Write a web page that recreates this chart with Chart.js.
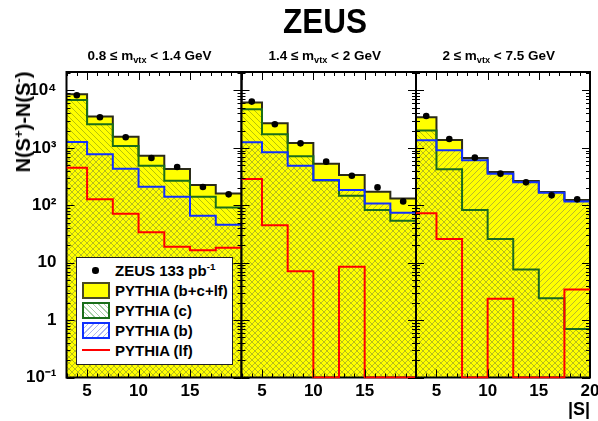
<!DOCTYPE html>
<html>
<head>
<meta charset="utf-8">
<script src="https://cdn.jsdelivr.net/npm/chart.js@4.4.1/dist/chart.umd.min.js"></script>
<style>
  html, body { margin: 0; padding: 0; background: #fff; }
  #wrap { position: relative; width: 598px; height: 421px; overflow: hidden;
          font-family: "Liberation Sans", Arial, Helvetica, sans-serif; font-weight: bold; color: #000; }
  #wrap canvas { position: absolute; left: 0; top: 0; }
  .txt { position: absolute; white-space: nowrap; line-height: 1; }
  .txt sub { font-size: 0.68em; vertical-align: baseline; position: relative; top: 0.3em; }
  .txt sup { font-size: 0.65em; vertical-align: baseline; position: relative; top: -0.55em; }
  .ptitle { font-size: 13.5px; width: 200px; text-align: center; top: 49.4px; }
  #title { font-size: 35px; width: 300px; left: 175px; top: 3px; text-align: center; transform: scaleX(0.9); }
  #ytitle { font-size: 20px; left: 22.5px; top: 121.7px; transform: translate(-50%, -50%) rotate(-90deg); }
  #xtitle { font-size: 18px; right: 8px; top: 400px; }
  #legend { position: absolute; left: 76px; top: 257px; width: 155px; height: 106px;
            border: 1px solid #222; background: #fff; }
  .lg { font-size: 15px; left: 115px; }
  .sw { position: absolute; left: 82px; width: 24px; height: 13px; }
</style>
</head>
<body>
<div id="wrap">
  <canvas id="p0" width="598" height="421"></canvas>
  <canvas id="p1" width="598" height="421"></canvas>
  <canvas id="p2" width="598" height="421"></canvas>

  <div class="txt" id="title">ZEUS</div>
  <div class="txt ptitle" style="left:49.5px">0.8 &le; m<sub>vtx</sub> &lt; 1.4 GeV</div>
  <div class="txt ptitle" style="left:224.7px">1.4 &le; m<sub>vtx</sub> &lt; 2 GeV</div>
  <div class="txt ptitle" style="left:398.7px">2 &le; m<sub>vtx</sub> &lt; 7.5 GeV</div>
  <div class="txt" id="ytitle">N(S<sup>+</sup>)-N(S<sup>-</sup>)</div>
  <div class="txt" id="xtitle">|S|</div>

  <div id="legend"></div>
  <div style="position:absolute;left:92px;top:267px;width:6.6px;height:6.6px;border-radius:50%;background:#000"></div>
  <div class="txt lg" style="top:262.7px">ZEUS 133 pb<sup>-1</sup></div>
  <div class="sw" style="top:282px;background:#ffff00;border:2px solid #4a4a22"></div>
  <div class="txt lg" style="top:282.7px">PYTHIA (b+c+lf)</div>
  <div class="sw" style="top:302px;border:2px solid #1a6e1a;background:repeating-linear-gradient(45deg,#fff 0,#fff 3px,#a8d0a8 3px,#a8d0a8 4px)"></div>
  <div class="txt lg" style="top:302.7px">PYTHIA (c)</div>
  <div class="sw" style="top:322px;border:2px solid #1030ff;background:repeating-linear-gradient(-45deg,#fff 0,#fff 3px,#b0b6f0 3px,#b0b6f0 4px)"></div>
  <div class="txt lg" style="top:322.7px">PYTHIA (b)</div>
  <div style="position:absolute;left:82px;top:349px;width:28px;height:2px;background:#ff0000"></div>
  <div class="txt lg" style="top:342.7px">PYTHIA (lf)</div>
</div>

<script>
// bin edges in |S| (7 bins per panel)
const sEdges = [3, 5, 7.5, 10, 12.5, 15, 17.5, 20];

// 0.8 <= m_vtx < 1.4 GeV
const dataP1 = [8260, 3410, 1530, 667, 465, 208, 155];
const totP1  = [8610, 3510, 1570, 732, 429, 225, 161];
const cP1    = [6860, 2580, 1080, 490, 268, 141, 92];
const bP1    = [1270, 773, 434, 211, 141, 66, 46];
const lfP1   = [453, 127, 71, 34, 19, 16.4, 18.2];

// 1.4 <= m_vtx < 2 GeV
const dataP2 = [6410, 2580, 1200, 576, 328, 205, 117];
const totP2  = [6150, 2690, 1220, 531, 337, 173, 132];
const cP2    = [4710, 1730, 713, 270, 147, 83, 54];
const bP2    = [1250, 837, 490, 275, 184, 108, 74];
const lfP2   = [287, 45, 7.1, 0, 8.5, 0, 0];

// 2 <= m_vtx < 7.5 GeV
const dataP3 = [3600, 1430, 676, 356, 251, 149, 127];
const totP3  = [3410, 1370, 667, 380, 265, 170, 124];
const cP3    = [2000, 423, 83, 26, 7.6, 2.4, 0.7];
const bP3    = [1360, 907, 607, 356, 251, 166, 117];
const lfP3   = [73, 26, 0, 2.35, 0, 0, 3.4];

const xTickLabels = [5, 10, 15, 20];
const yDecades = [0.1, 1, 10, 100, 1000, 10000];
const yTickLabels = ['10\u207B\u00B9', '1', '10', '10\u00B2', '10\u00B3', '10\u2074'];
const yMin = 0.1, yMax = 21000;

// frame geometry (pixels)
const frameTop = 72, frameBottom = 377.5;
const panels = [
  { id: 'p0', left: 66.5, right: 241.5, data: dataP1, tot: totP1, c: cP1, b: bP1, lf: lfP1, yLabels: true, last: false },
  { id: 'p1', left: 241.5, right: 416, data: dataP2, tot: totP2, c: cP2, b: bP2, lf: lfP2, yLabels: false, last: false },
  { id: 'p2', left: 416, right: 590, data: dataP3, tot: totP3, c: cP3, b: bP3, lf: lfP3, yLabels: false, last: true }
];

const tickFont = { family: "'Liberation Sans', Arial, sans-serif", size: 17, weight: 'bold' };

const xMinor = [];
for (let v = sEdges[0]; v <= sEdges[sEdges.length - 1]; v++) xMinor.push(v);
const yMinor = [];
yDecades.forEach(d => { for (let m = 1; m <= 9; m++) if (m * d <= yMax) yMinor.push(m * d); });

function hatch(color, dir) {
  const s = 6, cv = document.createElement('canvas');
  cv.width = s; cv.height = s;
  const g = cv.getContext('2d');
  g.strokeStyle = color; g.lineWidth = 1;
  [-s, 0, s].forEach(k => {
    g.beginPath();
    if (dir > 0) { g.moveTo(k, s); g.lineTo(k + s, 0); }
    else { g.moveTo(k, 0); g.lineTo(k + s, s); }
    g.stroke();
  });
  return g.createPattern(cv, 'repeat');
}

function steps(vals) {
  return sEdges.map((x, i) => {
    const v = vals[Math.min(i, vals.length - 1)];
    return { x: x, y: v > 0 ? v : yMin };
  });
}

function centers(vals) {
  return vals.map((v, i) => ({ x: (sEdges[i] + sEdges[i + 1]) / 2, y: v }));
}

const framePlugin = {
  id: 'frame',
  beforeDatasetDraw(chart, args) {
    if (chart.data.datasets[args.index].label !== 'PYTHIA (lf)') return;
    const a = chart.chartArea, ctx = chart.ctx;
    ctx.save();
    ctx.strokeStyle = '#000';
    ctx.lineWidth = 2;
    ctx.strokeRect(a.left, a.top, a.right - a.left, a.bottom - a.top);
    ctx.restore();
  },
  afterDatasetsDraw(chart) {
    const a = chart.chartArea, ctx = chart.ctx;
    const xs = chart.scales.x, ys = chart.scales.y;
    ctx.save();
    ctx.strokeStyle = '#000';
    ctx.lineWidth = 1;
    ctx.beginPath();
    xMinor.forEach(v => {
      const px = Math.round(xs.getPixelForValue(v)) + 0.5;
      const len = v % 5 === 0 ? 8 : 4;
      ctx.moveTo(px, a.bottom); ctx.lineTo(px, a.bottom - len);
      ctx.moveTo(px, a.top); ctx.lineTo(px, a.top + len);
    });
    yMinor.forEach(v => {
      const py = Math.round(ys.getPixelForValue(v)) + 0.5;
      const len = yDecades.includes(v) ? 8 : 4;
      ctx.moveTo(a.left, py); ctx.lineTo(a.left + len, py);
      ctx.moveTo(a.right, py); ctx.lineTo(a.right - len, py);
    });
    ctx.stroke();
    ctx.restore();
  }
};

panels.forEach(p => {
  const ctx = document.getElementById(p.id).getContext('2d');
  new Chart(ctx, {
    type: 'line',
    data: {
      datasets: [
        { label: 'ZEUS 133 pb-1', data: centers(p.data), showLine: false,
          pointRadius: 3.3, pointBackgroundColor: '#000', pointBorderWidth: 0, order: 1, clip: false },
        { label: 'PYTHIA (lf)', data: steps(p.lf), stepped: 'before', borderColor: '#ff0000', borderWidth: 2,
          pointRadius: 0, fill: false, order: 2, clip: { left: 0, top: 0, right: 0, bottom: 1 } },
        { label: 'PYTHIA (b)', data: steps(p.b), stepped: 'before', borderColor: '#1030ff', borderWidth: 2,
          pointRadius: 0, fill: 'start', backgroundColor: hatch('rgba(40,40,130,0.32)', 1), order: 3, clip: 0 },
        { label: 'PYTHIA (c)', data: steps(p.c), stepped: 'before', borderColor: '#1a6e1a', borderWidth: 2,
          pointRadius: 0, fill: 'start', backgroundColor: hatch('rgba(50,80,30,0.35)', -1), order: 4, clip: 0 },
        { label: 'PYTHIA (b+c+lf)', data: steps(p.tot), stepped: 'before', borderColor: '#2b2b1a', borderWidth: 2,
          pointRadius: 0, fill: 'start', backgroundColor: '#ffff00', order: 5, clip: 0 }
      ]
    },
    options: {
      responsive: false,
      animation: false,
      devicePixelRatio: 1,
      layout: { padding: { left: p.yLabels ? 0 : p.left, right: 598 - p.right, top: frameTop, bottom: 0 } },
      plugins: { legend: { display: false }, tooltip: { enabled: false } },
      scales: {
        x: {
          type: 'linear', min: sEdges[0], max: sEdges[sEdges.length - 1],
          grid: { display: false }, border: { display: false },
          afterBuildTicks: s => { s.ticks = xMinor.map(v => ({ value: v })); },
          afterFit: s => { s.height = 421 - frameBottom; s.paddingLeft = 0; s.paddingRight = 0; },
          ticks: {
            autoSkip: false, maxRotation: 0, padding: -4, color: '#000', font: tickFont,
            callback: v => (xTickLabels.includes(v) && (v < 20 || p.last)) ? String(v) : ''
          }
        },
        y: {
          type: 'logarithmic', min: yMin, max: yMax, display: p.yLabels,
          grid: { display: false }, border: { display: false },
          afterBuildTicks: s => { s.ticks = yMinor.map(v => ({ value: v })); },
          afterFit: s => { s.width = p.yLabels ? p.left : 0; s.paddingTop = 0; s.paddingBottom = 0; },
          ticks: {
            autoSkip: false, padding: 2, color: '#000', font: tickFont,
            callback: v => { const i = yDecades.indexOf(v); return i >= 0 ? yTickLabels[i] : ''; }
          }
        }
      }
    },
    plugins: [framePlugin]
  });
});
</script>
</body>
</html>
